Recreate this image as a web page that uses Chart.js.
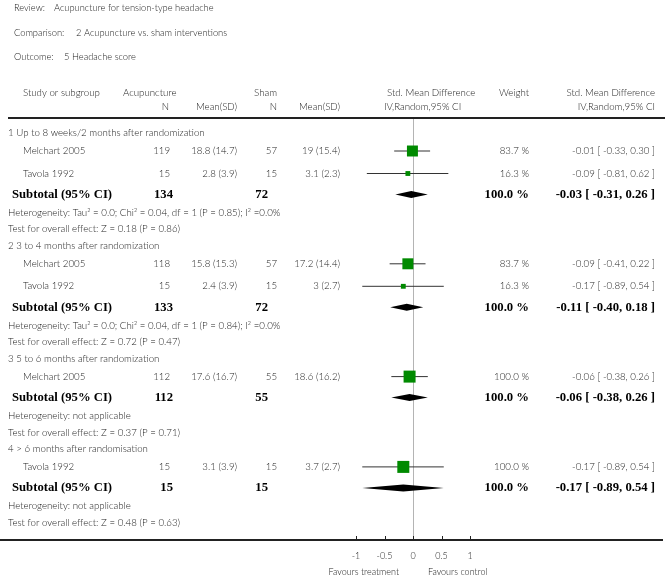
<!DOCTYPE html>
<html><head><meta charset="utf-8">
<script src="https://cdn.jsdelivr.net/npm/chart.js@4.4.1/dist/chart.umd.min.js"></script>
<style>html,body{margin:0;padding:0;background:#fff}canvas{display:block}</style>
</head><body>
<canvas id="c" width="667" height="579"></canvas>
<script>
// ---------------- data ----------------
const reviewTitle = "Acupuncture for tension-type headache";
const comparisonTitle = "2 Acupuncture vs. sham interventions";
const outcomeTitle = "5 Headache score";
const groupLabels = ["1 Up to 8 weeks/2 months after randomization", "2 3 to 4 months after randomization", "3 5 to 6 months after randomization", "4 > 6 months after randomisation"];
const studyGroup = [0, 0, 1, 1, 2, 3];
const studyNames = ["Melchart 2005", "Tavola 1992", "Melchart 2005", "Tavola 1992", "Melchart 2005", "Tavola 1992"];
const acuN = [119, 15, 118, 15, 112, 15];
const acuMeanSD = ["18.8 (14.7)", "2.8 (3.9)", "15.8 (15.3)", "2.4 (3.9)", "17.6 (16.7)", "3.1 (3.9)"];
const shamN = [57, 15, 57, 15, 55, 15];
const shamMeanSD = ["19 (15.4)", "3.1 (2.3)", "17.2 (14.4)", "3 (2.7)", "18.6 (16.2)", "3.7 (2.7)"];
const studyWeight = [83.7, 16.3, 83.7, 16.3, 100.0, 100.0];
const studySMD = [-0.01, -0.09, -0.09, -0.17, -0.06, -0.17];
const studyLo = [-0.33, -0.81, -0.41, -0.89, -0.38, -0.89];
const studyHi = [0.30, 0.62, 0.22, 0.54, 0.26, 0.54];
const subAcuN = [134, 133, 112, 15];
const subShamN = [72, 72, 55, 15];
const subWeight = [100.0, 100.0, 100.0, 100.0];
const subSMD = [-0.03, -0.11, -0.06, -0.17];
const subLo = [-0.31, -0.40, -0.38, -0.89];
const subHi = [0.26, 0.18, 0.26, 0.54];
const heterogeneityText = [
  "Heterogeneity: Tau\u00B2 = 0.0; Chi\u00B2 = 0.04, df = 1 (P = 0.85); I\u00B2 =0.0%",
  "Heterogeneity: Tau\u00B2 = 0.0; Chi\u00B2 = 0.04, df = 1 (P = 0.84); I\u00B2 =0.0%",
  "Heterogeneity: not applicable",
  "Heterogeneity: not applicable"];
const overallEffectText = [
  "Test for overall effect: Z = 0.18 (P = 0.86)",
  "Test for overall effect: Z = 0.72 (P = 0.47)",
  "Test for overall effect: Z = 0.37 (P = 0.71)",
  "Test for overall effect: Z = 0.48 (P = 0.63)"];
const xTickValues = [-1, -0.5, 0, 0.5, 1];
const xTickLabels = ["-1", "-0.5", "0", "0.5", "1"];
const favoursLeft = "Favours treatment";
const favoursRight = "Favours control";

// ---------------- layout (row spacing by row type) ----------------
const GAP = {groupFirst: 15, group: 16.5, studyAfterGroup: 18, study: 22.5, subtotal: 21, het: 18.3, test: 16.5};
const rows = [];
(function buildRows() {
  let y = 0;
  groupLabels.forEach((g, gi) => {
    y += gi === 0 ? GAP.groupFirst : GAP.group;
    rows.push({type: 'group', g: gi, y});
    let first = true;
    studyGroup.forEach((sg, si) => {
      if (sg !== gi) return;
      y += first ? GAP.studyAfterGroup : GAP.study;
      first = false;
      rows.push({type: 'study', i: si, y});
    });
    y += GAP.subtotal; rows.push({type: 'subtotal', g: gi, y});
    y += GAP.het; rows.push({type: 'het', g: gi, y});
    y += GAP.test; rows.push({type: 'test', g: gi, y});
  });
})();
const studyRowY = i => rows.find(r => r.type === 'study' && r.i === i).y;
const subRowY = g => rows.find(r => r.type === 'subtotal' && r.g === g).y;

const fmt2 = v => v.toFixed(2);
const ciText = (m, l, h) => fmt2(m) + " [ " + fmt2(l) + ", " + fmt2(h) + " ]";
const wText = w => w.toFixed(1) + " %";

const SANS = '"Lato", "DejaVu Sans", sans-serif';
const SERIF = '"Liberation Serif", "DejaVu Serif", serif';
const TXT = '#222';

// ---------------- datasets ----------------
const squareSide = studyWeight.map(w => 12 * Math.sqrt(w / 100));
const datasets = [];
datasets.push({
  type: 'scatter',
  data: studySMD.map((m, i) => ({x: m, y: studyRowY(i)})),
  pointStyle: 'rect',
  pointRadius: squareSide.map(s => s / Math.SQRT2),
  pointHoverRadius: squareSide.map(s => s / Math.SQRT2),
  backgroundColor: '#008a00',
  borderColor: '#008a00',
  borderWidth: 0
});
studySMD.forEach((m, i) => {
  datasets.push({
    type: 'line',
    data: [{x: studyLo[i], y: studyRowY(i)}, {x: studyHi[i], y: studyRowY(i)}],
    borderColor: '#333', borderWidth: 1, pointRadius: 0, fill: false
  });
});

// ---------------- plugin: table text, lines, diamonds ----------------
const forestPlugin = {
  id: 'forest',
  beforeDatasetsDraw(chart) {
    const {ctx, scales: {x, y}} = chart;
    const zx = Math.round(x.getPixelForValue(0)) + 0.5;
    ctx.save();
    ctx.strokeStyle = '#b4b4b4'; ctx.lineWidth = 1;
    ctx.beginPath(); ctx.moveTo(zx, y.getPixelForValue(0)); ctx.lineTo(zx, chart.chartArea.bottom); ctx.stroke();
    ctx.restore();
  },
  afterDatasetsDraw(chart) {
    const {ctx, scales: {x, y}} = chart;
    ctx.save();
    ctx.fillStyle = '#000';
    subSMD.forEach((m, g) => {
      const yc = y.getPixelForValue(subRowY(g));
      const h = 3.5;
      ctx.beginPath();
      ctx.moveTo(x.getPixelForValue(subLo[g]), yc);
      ctx.lineTo(x.getPixelForValue(m), yc - h);
      ctx.lineTo(x.getPixelForValue(subHi[g]), yc);
      ctx.lineTo(x.getPixelForValue(m), yc + h);
      ctx.closePath(); ctx.fill();
    });
    ctx.restore();
  },
  afterDraw(chart) {
    const {ctx, scales: {x, y}, chartArea} = chart;
    ctx.save();
    ctx.textBaseline = 'middle';
    const txt = (s, px, py, align, font, color) => {
      ctx.font = font;
      ctx.fillStyle = color || TXT;
      ctx.textAlign = align || 'left';
      ctx.fillText(s, px, py);
    };
    const reg = '300 9.7px ' + SANS;
    const ttl = '300 9.3px ' + SANS;
    const bold = 'bold 12.7px ' + SERIF;
    // titles
    txt("Review:", 14, 8, 'left', ttl);
    txt(reviewTitle, 54, 8, 'left', ttl);
    txt("Comparison:", 14, 33, 'left', ttl);
    txt(comparisonTitle, 76, 33, 'left', ttl);
    txt("Outcome:", 14, 57, 'left', ttl);
    txt(outcomeTitle, 64, 57, 'left', ttl);
    // header
    const h1 = 93, h2 = 106.5;
    txt("Study or subgroup", 23, h1, 'left', reg);
    txt("Acupuncture", 123, h1, 'left', reg);
    txt("Sham", 277, h1, 'right', reg);
    txt("N", 169, h2, 'right', reg);
    txt("Mean(SD)", 237, h2, 'right', reg);
    txt("N", 277, h2, 'right', reg);
    txt("Mean(SD)", 340, h2, 'right', reg);
    txt("Std. Mean Difference", 387, h1, 'left', reg);
    txt("IV,Random,95% CI", 384, h2, 'left', reg);
    txt("Weight", 529, h1, 'right', reg);
    txt("Std. Mean Difference", 655, h1, 'right', reg);
    txt("IV,Random,95% CI", 655, h2, 'right', reg);
    // header rule
    const topY = y.getPixelForValue(0);
    ctx.strokeStyle = '#222'; ctx.lineWidth = 2;
    ctx.beginPath(); ctx.moveTo(8, topY); ctx.lineTo(665, topY); ctx.stroke();
    // rows
    rows.forEach(r => {
      const py = y.getPixelForValue(r.y);
      if (r.type === 'group') txt(groupLabels[r.g], 8, py, 'left', reg);
      else if (r.type === 'study') {
        const i = r.i;
        txt(studyNames[i], 23, py, 'left', reg);
        txt(String(acuN[i]), 170, py, 'right', reg);
        txt(acuMeanSD[i], 237, py, 'right', reg);
        txt(String(shamN[i]), 277, py, 'right', reg);
        txt(shamMeanSD[i], 340, py, 'right', reg);
        txt(wText(studyWeight[i]), 529, py, 'right', reg);
        txt(ciText(studySMD[i], studyLo[i], studyHi[i]), 655, py, 'right', reg);
      } else if (r.type === 'subtotal') {
        const g = r.g;
        txt("Subtotal (95% CI)", 12, py, 'left', bold, '#000');
        txt(String(subAcuN[g]), 173, py, 'right', bold, '#000');
        txt(String(subShamN[g]), 268, py, 'right', bold, '#000');
        txt(wText(subWeight[g]), 529, py, 'right', bold, '#000');
        txt(ciText(subSMD[g], subLo[g], subHi[g]), 655, py, 'right', bold, '#000');
      } else if (r.type === 'het') txt(heterogeneityText[r.g], 8, py, 'left', reg);
      else if (r.type === 'test') txt(overallEffectText[r.g], 8, py, 'left', reg);
    });
    // bottom axis rule and ticks
    const by = chartArea.bottom;
    ctx.strokeStyle = '#222'; ctx.lineWidth = 2;
    ctx.beginPath(); ctx.moveTo(0, by); ctx.lineTo(663, by); ctx.stroke();
    ctx.lineWidth = 1;
    xTickValues.forEach(v => {
      const px = Math.round(x.getPixelForValue(v)) + 0.5;
      ctx.beginPath(); ctx.moveTo(px, by); ctx.lineTo(px, by - 4); ctx.stroke();
    });
    const zx = x.getPixelForValue(0);
    txt(favoursLeft, zx - 14, 572, 'right', '300 9px ' + SANS);
    txt(favoursRight, zx + 15, 572, 'left', '300 9px ' + SANS);
    ctx.restore();
  }
};

new Chart(document.getElementById('c'), {
  data: {datasets},
  options: {
    responsive: false,
    animation: false,
    events: [],
    layout: {padding: {left: 356, right: 197, top: 118, bottom: 0}},
    plugins: {legend: {display: false}, tooltip: {enabled: false}},
    scales: {
      x: {
        type: 'linear', min: -1, max: 1,
        afterBuildTicks: s => { s.ticks = xTickValues.map(v => ({value: v})); },
        afterFit: s => { s.height = 39; },
        grid: {display: false, drawTicks: false},
        border: {display: false},
        ticks: {
          autoSkip: false, maxRotation: 0, padding: 11,
          color: '#222', font: {family: SANS, size: 9, weight: '300'},
          callback: (v) => { const k = xTickValues.indexOf(v); return k >= 0 ? xTickLabels[k] : ''; }
        }
      },
      y: {
        type: 'linear', display: false, reverse: true, min: 0, max: 422
      }
    }
  },
  plugins: [forestPlugin]
});
</script>
</body></html>
